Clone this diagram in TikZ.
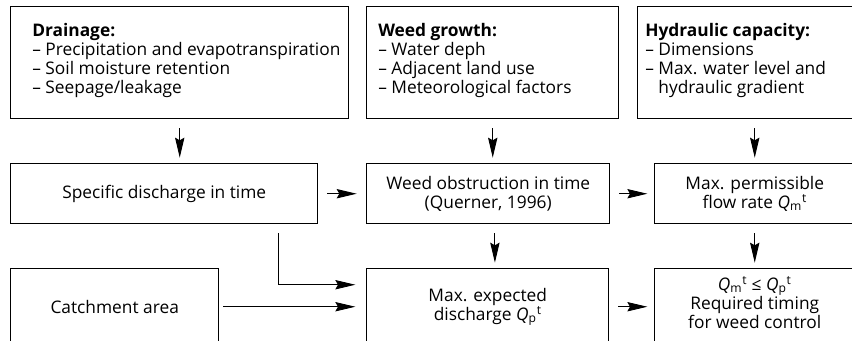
\documentclass[tikz,border=0pt]{standalone}
\usepackage{fontspec}
\setmainfont{Open Sans}
\usetikzlibrary{arrows.meta}
\newcommand{\Qm}{\textit{Q}\textsubscript{m}\textsuperscript{t}}
\newcommand{\Qp}{\textit{Q}\textsubscript{p}\textsuperscript{t}}
\begin{document}
\begin{tikzpicture}[x=0.75pt,y=-0.75pt,font=\fontsize{13}{14.25}\selectfont,
	box/.style={shape=rectangle,draw,line width=1.1pt,inner sep=0pt,anchor=north west,align=center},
	txt/.style={shape=rectangle,inner sep=0pt,anchor=north west,align=left},
	arr/.style={-{Stealth[length=15pt,width=7pt,inset=2pt]},line width=0.7pt,shorten <=6.5pt,shorten >=4pt}]
	\useasboundingbox (0,0) rectangle (852,341);
	\clip (0,0) rectangle (852,341);
	\node[box,minimum width=253.5pt,minimum height=84pt](a) at (10,6) {};
	\node[box,minimum width=189pt,minimum height=84pt](b) at (366,6) {};
	\node[box,minimum width=162.75pt,minimum height=84pt](c) at (637,6) {};
	\node[txt](j) at (32,23) {\textbf{Drainage:}\\– Precipitation and evapotranspiration\\– Soil moisture retention\\– Seepage/leakage};
	\node[txt](k) at (378,23) {\textbf{Weed growth:}\\– Water deph\\– Adjacent land use\\– Meteorological factors};
	\node[txt](l) at (645,23) {\textbf{Hydraulic capacity:}\\– Dimensions\\– Max. water level and\\\phantom{– }hydraulic gradient};
	\node[box,minimum width=230.25pt,minimum height=45pt](d) at (10,163) {Specific discharge in time};
	\node[box,minimum width=182.25pt,minimum height=45pt](e) at (366,163) {Weed obstruction in time\\(Querner, 1996)};
	\node[box,minimum width=150pt,minimum height=45pt](f) at (654,163) {Max. permissible\\flow rate \Qm};
	\node[box,minimum width=156pt,minimum height=57pt](g) at (10,268) {Catchment area};
	\node[box,minimum width=181.5pt,minimum height=57pt](h) at (366,268) {Max. expected\\discharge \Qp};
	\node[box,minimum width=150pt,minimum height=57pt](i) at (654,268) {\Qm{} ≤ \Qp\\Required timing\\for weed control\\[-8pt]};
	\draw[arr] (a.south) -- (a.south |- d.north);
	\draw[arr] (b.south) -- (b.south |- e.north);
	\draw[arr] (f.north |- c.south) -- (f.north);
	\draw[arr] ([xshift=5pt]e.south) -- ([xshift=5pt]e.south |- h.north);
	\draw[arr] (f.south) -- (i.north);
	\draw[arr,shorten >=7pt] (d.east) -- (e.west);
	\draw[arr,shorten >=5pt] (e.east) -- (f.west);
	\draw[arr,shorten >=5pt] (h.east) -- (i.west);
	\draw[arr,shorten >=8pt] ([xshift=-30pt]d.south east) |- ([yshift=16.5pt]h.west);
	\draw[arr,shorten <=3pt,shorten >=8pt] (g.east) -- (h.west);
\end{tikzpicture}
\end{document}
